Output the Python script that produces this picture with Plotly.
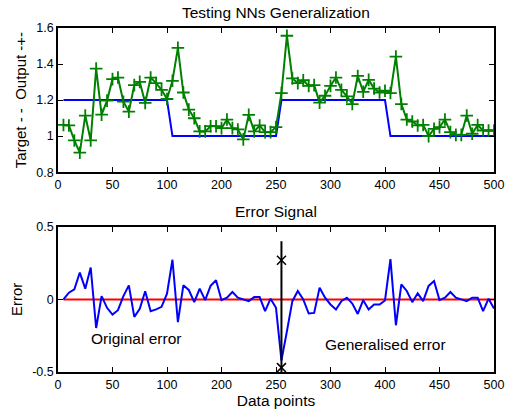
import plotly.graph_objects as go

x = list(range(1, 81))
tick_vals = [0, 10, 20, 30, 40, 50, 60, 70, 80]
tick_text = ["0", "50", "100", "200", "250", "300", "400", "450", "500"]

target = [1.2] * 20 + [1.0] * 20 + [1.2] * 20 + [1.0] * 20

output = [1.062, 1.059, 0.976, 0.908, 1.114, 0.976, 1.375, 1.119, 1.197, 1.316,
          1.325, 1.191, 1.136, 1.283, 1.301, 1.184, 1.325, 1.294, 1.257, 1.206,
          1.307, 1.490, 1.242, 1.147, 1.099, 1.026, 1.026, 1.055, 1.055, 1.044,
          1.092, 1.044, 1.037, 0.982, 1.118, 1.026, 1.059, 1.022, 1.022, 1.050,
          1.239, 1.557, 1.320, 1.294, 1.310, 1.279, 1.283, 1.186, 1.224, 1.279,
          1.325, 1.257, 1.220, 1.178, 1.334, 1.246, 1.312, 1.264, 1.242, 1.252,
          1.239, 1.441, 1.178, 1.092, 1.081, 1.059, 1.062, 1.000, 1.040, 1.050,
          1.092, 1.022, 1.007, 1.007, 1.114, 1.013, 1.062, 1.031, 1.031, 1.031]

error = [0.0, 0.046, 0.069, 0.185, 0.074, 0.22, -0.197, 0.023, -0.058, -0.104,
         -0.074, 0.023, 0.097, -0.12, -0.065, 0.056, -0.081, -0.069, -0.051, 0.039,
         0.273, -0.157, 0.097, 0.065, -0.019, 0.074, -0.005, 0.093, 0.132, -0.005,
         0.012, 0.051, 0.012, 0.0, -0.012, 0.016, 0.016, -0.081, 0.005, -0.058,
         -0.42, -0.22, -0.012, 0.058, 0.0, -0.097, -0.093, 0.081, 0.012, -0.035,
         -0.069, -0.012, 0.012, -0.028, -0.1, -0.005, -0.069, -0.035, -0.035, -0.007,
         0.278, -0.178, 0.104, 0.058, -0.019, 0.042, -0.012, 0.093, 0.127, -0.005,
         0.012, 0.051, 0.012, 0.0, -0.012, 0.012, 0.012, -0.081, 0.005, -0.063]

zero_line = [0.0] * 80
split_x = [41, 41]
split_y = [0.4, -0.5]
mark_x = [41, 41]
mark_y = [0.27, -0.47]

FONT = "Liberation Sans, Arial, sans-serif"
TXT = 15.5

fig = go.Figure()
fig.add_trace(go.Scatter(x=x, y=target, mode="lines", line=dict(color="#0000ff", width=2),
                         xaxis="x", yaxis="y", showlegend=False))
fig.add_trace(go.Scatter(x=x, y=output, mode="lines+markers",
                         line=dict(color="#008000", width=2),
                         marker=dict(symbol="cross-thin", size=9, line=dict(color="#008000", width=1.8)),
                         xaxis="x", yaxis="y", showlegend=False))
fig.add_trace(go.Scatter(x=x, y=zero_line, mode="lines", line=dict(color="#ff0000", width=2),
                         xaxis="x2", yaxis="y2", showlegend=False))
fig.add_trace(go.Scatter(x=x, y=error, mode="lines", line=dict(color="#0000ff", width=2),
                         xaxis="x2", yaxis="y2", showlegend=False))
fig.add_trace(go.Scatter(x=split_x, y=split_y, mode="lines", line=dict(color="black", width=2),
                         xaxis="x2", yaxis="y2", showlegend=False, cliponaxis=False))
fig.add_trace(go.Scatter(x=mark_x, y=mark_y, mode="markers",
                         marker=dict(symbol="x-thin", size=9, line=dict(color="black", width=1.5)),
                         xaxis="x2", yaxis="y2", showlegend=False))

axis_common = dict(showline=True, linecolor="black", linewidth=1.5, mirror="ticks",
                   ticks="inside", ticklen=5, tickcolor="black", showgrid=False, zeroline=False,
                   tickfont=dict(family=FONT, size=12.5, color="black"))

fig.update_layout(
    width=516, height=418,
    margin=dict(l=58, r=18, t=28, b=44),
    paper_bgcolor="white", plot_bgcolor="white",
    font=dict(family=FONT, color="black"),
    xaxis=dict(domain=[0, 1], range=[0, 80], tickvals=tick_vals, ticktext=tick_text,
               anchor="y", **axis_common),
    yaxis=dict(domain=[0.581, 1], range=[0.8, 1.6], tickvals=[0.8, 1.0, 1.2, 1.4, 1.6],
               ticktext=["0.8", "1", "1.2", "1.4", "1.6"], anchor="x",
               title=dict(text="Target - -  Output -+-", font=dict(family=FONT, size=15), standoff=6),
               **axis_common),
    xaxis2=dict(domain=[0, 1], range=[0, 80], tickvals=tick_vals, ticktext=tick_text,
                anchor="y2",
                title=dict(text="Data points", font=dict(family=FONT, size=TXT), standoff=3),
                **axis_common),
    yaxis2=dict(domain=[0, 0.422], range=[-0.5, 0.5], tickvals=[-0.5, 0, 0.5],
                ticktext=["-0.5", "0", "0.5"], anchor="x2",
                title=dict(text="Error", font=dict(family=FONT, size=15), standoff=6),
                **axis_common),
    annotations=[
        dict(text="Testing NNs Generalization", x=0.5, y=1, xref="paper", yref="paper",
             xanchor="center", yanchor="bottom", yshift=5, showarrow=False,
             font=dict(family=FONT, size=TXT)),
        dict(text="Error Signal", x=0.5, y=0.422, xref="paper", yref="paper",
             xanchor="center", yanchor="bottom", yshift=5, showarrow=False,
             font=dict(family=FONT, size=TXT)),
        dict(text="Original error", x=14.3, y=-0.27, xref="x2", yref="y2", showarrow=False,
             font=dict(family=FONT, size=TXT)),
        dict(text="Generalised error", x=60, y=-0.31, xref="x2", yref="y2", showarrow=False,
             font=dict(family=FONT, size=TXT)),
    ],
)

fig.write_html("out.html", config={"displayModeBar": False},
               post_script="document.body.style.margin='0';document.body.style.padding='0';")
